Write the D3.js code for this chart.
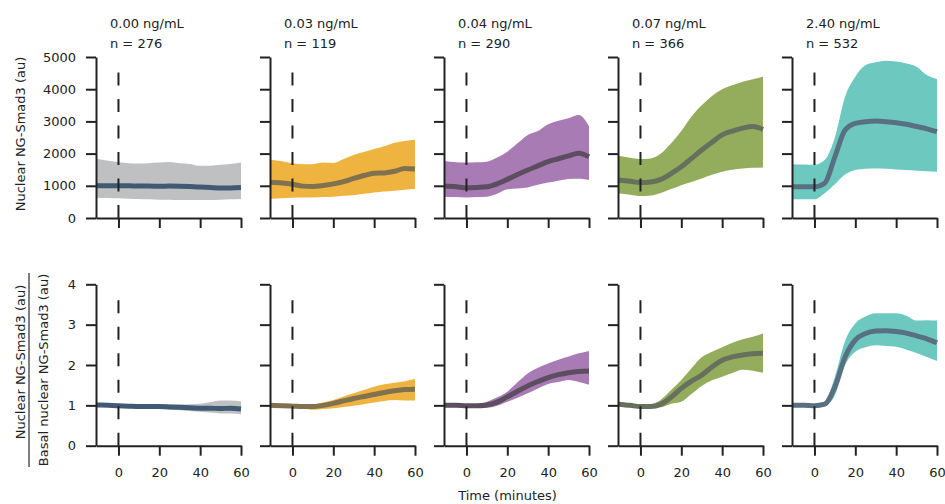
<!DOCTYPE html>
<html>
<head>
<meta charset="utf-8">
<script src="https://cdn.jsdelivr.net/npm/d3@7"></script>
<style>
    body { margin: 0; background: #fff; }
    text { font-family: "DejaVu Sans", sans-serif; fill: #222; }
</style>
</head>
<body>
<div class="chart"></div>
<script>
// time points (minutes)
const times = [-11, -5, 0, 5, 10, 15, 20, 25, 30, 35, 40, 45, 50, 55, 60];
const doses = ["0.00 ng/mL", "0.03 ng/mL", "0.04 ng/mL", "0.07 ng/mL", "2.40 ng/mL"];
const cellCounts = [276, 119, 290, 366, 532];
const rawTicks = [0, 1000, 2000, 3000, 4000, 5000];
const foldTicks = [0, 1, 2, 3, 4];
const timeTicks = [0, 20, 40, 60];

// top row: nuclear NG-Smad3 (au)
const rawMean = [
    [1010, 1000, 1000, 1000, 990, 990, 985, 990, 985, 975, 960, 945, 930, 930, 945],
    [1110, 1090, 1050, 990, 980, 1010, 1060, 1130, 1230, 1320, 1390, 1400, 1450, 1540, 1520],
    [990, 970, 940, 950, 970, 1060, 1200, 1350, 1490, 1620, 1750, 1840, 1930, 2010, 1900],
    [1180, 1140, 1100, 1120, 1200, 1380, 1590, 1850, 2110, 2350, 2580, 2700, 2790, 2840, 2750],
    [970, 970, 970, 1080, 1900, 2730, 2940, 2990, 3010, 2990, 2960, 2910, 2840, 2770, 2680]
];
const rawUpper = [
    [1840, 1780, 1740, 1700, 1690, 1700, 1720, 1740, 1700, 1680, 1620, 1620, 1650, 1680, 1720],
    [1820, 1760, 1700, 1670, 1670, 1720, 1710, 1830, 1960, 2050, 2140, 2230, 2340, 2390, 2440],
    [1770, 1730, 1720, 1730, 1750, 1880, 2060, 2320, 2580, 2700, 2910, 3020, 3100, 3200, 2860],
    [1930, 1870, 1830, 1850, 2000, 2320, 2700, 3150, 3500, 3790, 4000, 4120, 4230, 4310, 4390],
    [1670, 1660, 1650, 1800, 2500, 3770, 4390, 4750, 4840, 4880, 4860, 4800, 4700, 4440, 4320]
];
const rawLower = [
    [630, 620, 610, 600, 590, 580, 570, 570, 560, 560, 560, 560, 570, 580, 590],
    [590, 610, 630, 640, 640, 650, 660, 690, 710, 750, 790, 820, 850, 880, 900],
    [660, 650, 640, 650, 660, 750, 890, 920, 950, 1030, 1100, 1160, 1210, 1220, 1180],
    [770, 720, 680, 700, 780, 900, 1020, 1120, 1230, 1340, 1440, 1500, 1540, 1560, 1570],
    [580, 580, 580, 770, 1050, 1350, 1490, 1530, 1540, 1530, 1510, 1490, 1470, 1450, 1440]
];

// bottom row: nuclear / basal nuclear NG-Smad3
const foldMean = [
    [1.01, 1.0, 0.99, 0.98, 0.97, 0.97, 0.97, 0.96, 0.95, 0.94, 0.93, 0.93, 0.92, 0.93, 0.91],
    [1.0, 0.99, 0.98, 0.97, 0.97, 1.0, 1.05, 1.11, 1.17, 1.22, 1.27, 1.32, 1.36, 1.39, 1.40],
    [1.0, 1.0, 0.99, 0.99, 1.01, 1.08, 1.21, 1.35, 1.48, 1.59, 1.69, 1.76, 1.81, 1.84, 1.85],
    [1.03, 1.0, 0.97, 0.97, 1.03, 1.2, 1.42, 1.6, 1.75, 1.95, 2.12, 2.2, 2.25, 2.28, 2.29],
    [1.0, 1.0, 0.99, 1.03, 1.46, 2.2, 2.62, 2.78, 2.84, 2.85, 2.83, 2.79, 2.72, 2.65, 2.55]
];
const foldUpper = [
    [1.03, 1.02, 1.01, 1.01, 1.01, 1.01, 1.02, 1.02, 1.02, 1.03, 1.04, 1.08, 1.12, 1.12, 1.1],
    [1.02, 1.01, 1.0, 1.0, 1.02, 1.07, 1.13, 1.22, 1.30, 1.38, 1.46, 1.52, 1.56, 1.60, 1.65],
    [1.02, 1.02, 1.01, 1.02, 1.09, 1.2, 1.34, 1.57, 1.79, 1.93, 2.04, 2.13, 2.21, 2.29, 2.35],
    [1.05, 1.02, 0.99, 1.02, 1.14, 1.38, 1.63, 1.92, 2.19, 2.33, 2.44, 2.55, 2.64, 2.7, 2.78],
    [1.02, 1.02, 1.01, 1.09, 1.71, 2.6, 3.03, 3.2, 3.28, 3.28, 3.28, 3.22, 3.1, 3.11, 3.1]
];
const foldLower = [
    [0.99, 0.98, 0.97, 0.95, 0.93, 0.92, 0.91, 0.9, 0.88, 0.86, 0.84, 0.82, 0.8, 0.8, 0.78],
    [0.98, 0.97, 0.96, 0.93, 0.89, 0.91, 0.93, 0.96, 0.99, 1.03, 1.07, 1.11, 1.13, 1.12, 1.12],
    [0.98, 0.98, 0.97, 0.96, 0.94, 0.99, 1.09, 1.19, 1.3, 1.42, 1.53, 1.58, 1.63, 1.58, 1.51],
    [1.01, 0.98, 0.95, 0.93, 0.95, 1.04, 1.09, 1.28, 1.48, 1.62, 1.71, 1.8, 1.88, 1.86, 1.81],
    [0.98, 0.98, 0.97, 0.99, 1.25, 2.0, 2.33, 2.44, 2.49, 2.47, 2.45, 2.38, 2.3, 2.2, 2.1]
];

const bandColors = ["#bfc0c2", "#efb440", "#a87bb4", "#94ad5c", "#6dc8bf"];
const lineColors = ["#3f5a72", "#80714f", "#5c4d60", "#66705c", "#587082"];

const width = 945, height = 504;
const svg = d3.select(".chart").append("svg")
    .attr("width", width)
    .attr("height", height);

// panel geometry
const firstLeft = 96, panelStep = 174, panelWidth = 145;
const rows = [
    { mean: rawMean, upper: rawUpper, lower: rawLower, ticks: rawTicks, top: 57, bottom: 218, labels: false },
    { mean: foldMean, upper: foldUpper, lower: foldLower, ticks: foldTicks, top: 284.3, bottom: 445.7, labels: true }
];

function styleAxis(g) {
    g.select(".domain").attr("stroke", "#222").attr("stroke-width", 2);
    g.selectAll(".tick line").attr("stroke", "#222").attr("stroke-width", 2);
    g.selectAll(".tick text").style("font-size", "13px").attr("fill", "#222");
}

rows.forEach(function (row, r) {
    const yMax = row.ticks[row.ticks.length - 1];
    const yScale = d3.scaleLinear().domain([0, yMax]).range([row.bottom, row.top]);

    for (let p = 0; p < doses.length; p++) {
        const left = firstLeft + p * panelStep;
        const xScale = d3.scaleLinear().domain([times[0], 60]).range([left, left + panelWidth]);

        const pts = times.map(function (t, i) {
            return { t: t, m: row.mean[p][i], hi: row.upper[p][i], lo: row.lower[p][i] };
        });

        // shaded band
        const area = d3.area()
            .x(function (d) { return xScale(d.t); })
            .y0(function (d) { return yScale(d.lo); })
            .y1(function (d) { return yScale(d.hi); })
            .curve(d3.curveMonotoneX);
        svg.append("path")
            .datum(pts)
            .attr("d", area)
            .attr("fill", bandColors[p]);

        // mean line
        const line = d3.line()
            .x(function (d) { return xScale(d.t); })
            .y(function (d) { return yScale(d.m); })
            .curve(d3.curveMonotoneX);
        svg.append("path")
            .datum(pts)
            .attr("d", line)
            .attr("fill", "none")
            .attr("stroke", lineColors[p])
            .attr("stroke-width", 5)
            .attr("stroke-linecap", "butt");

        // stimulation at t = 0
        svg.append("line")
            .attr("x1", xScale(0)).attr("x2", xScale(0))
            .attr("y1", yScale(0)).attr("y2", yScale(yMax * 0.925))
            .attr("stroke", "#222")
            .attr("stroke-width", 2)
            .attr("stroke-dasharray", "13,13.5");

        // x axis
        svg.append("g")
            .attr("transform", "translate(0," + row.bottom + ")")
            .call(d3.axisBottom(xScale).tickValues(timeTicks).tickSize(10).tickSizeOuter(0).tickPadding(12)
                .tickFormat(row.labels ? d3.format("d") : ""))
            .call(styleAxis);

        // y axis
        svg.append("g")
            .attr("transform", "translate(" + left + ",0)")
            .call(d3.axisLeft(yScale).tickValues(row.ticks).tickSize(10).tickSizeOuter(0).tickPadding(10)
                .tickFormat(p === 0 ? d3.format("d") : ""))
            .call(styleAxis);

        // dose titles
        if (r === 0) {
            svg.append("text")
                .attr("x", left + 14).attr("y", 28)
                .style("font-size", "13px")
                .text(doses[p]);
            svg.append("text")
                .attr("x", left + 14).attr("y", 48)
                .style("font-size", "13px")
                .text("n = " + cellCounts[p]);
        }
    }
});

// y labels
svg.append("text")
    .attr("transform", "translate(25,134) rotate(-90)")
    .attr("text-anchor", "middle")
    .style("font-size", "13px")
    .text("Nuclear NG-Smad3 (au)");

svg.append("text")
    .attr("transform", "translate(24.5,362) rotate(-90)")
    .attr("text-anchor", "middle")
    .style("font-size", "13px")
    .text("Nuclear NG-Smad3 (au)");

svg.append("line")
    .attr("x1", 29).attr("x2", 29)
    .attr("y1", 273).attr("y2", 467)
    .attr("stroke", "#555")
    .attr("stroke-width", 1.5);

svg.append("text")
    .attr("transform", "translate(47.5,370) rotate(-90)")
    .attr("text-anchor", "middle")
    .style("font-size", "13px")
    .text("Basal nuclear NG-Smad3 (au)");

// x label
svg.append("text")
    .attr("x", 507.5).attr("y", 500)
    .attr("text-anchor", "middle")
    .style("font-size", "13px")
    .text("Time (minutes)");
</script>
</body>
</html>
